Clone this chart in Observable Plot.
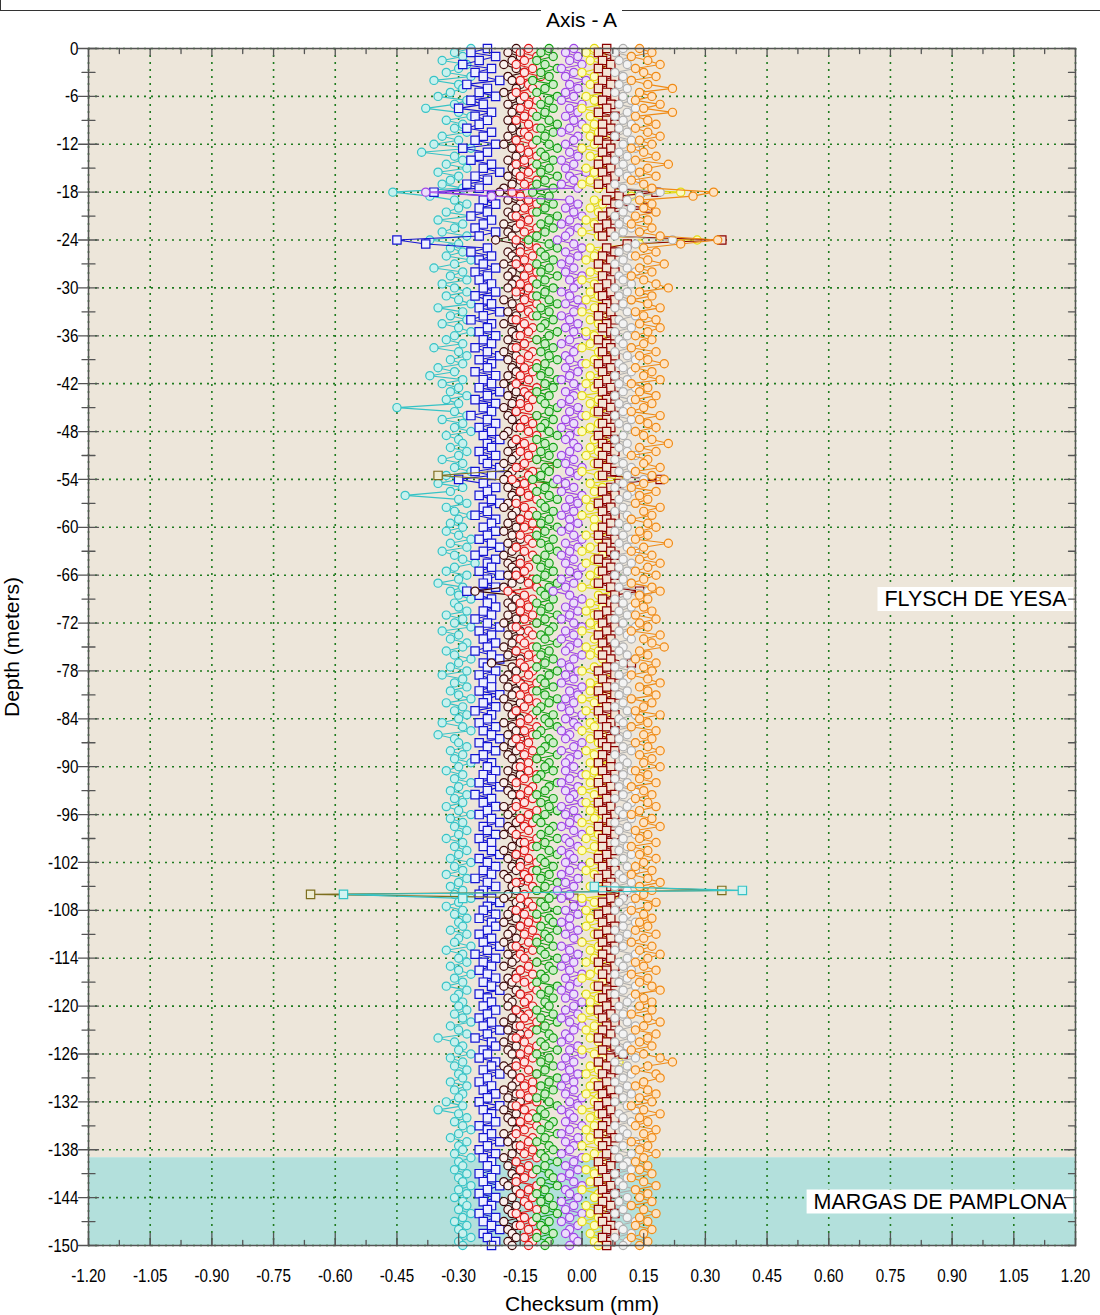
<!DOCTYPE html>
<html>
<head>
<meta charset="utf-8">
<script src="https://cdn.jsdelivr.net/npm/d3@7"></script>
<script src="https://cdn.jsdelivr.net/npm/@observablehq/plot@0.6"></script>
<style>
  body { margin: 0; background: #fff; }
  #wrap { position: relative; width: 1100px; height: 1315px; }
  #topline { position: absolute; left: 0; top: 0; width: 1100px; height: 11px; border-left: 1px solid #333; border-bottom: 1px solid #333; box-sizing: border-box; }
  #title { position: absolute; top: 8px; left: 88px; width: 987px; text-align: center; font: 21px "Liberation Sans", Arial, sans-serif; color: #000; }
  #title span { background: #fff; padding: 3px 5px 0 5px; }
  #chart svg { display: block; }
  #chart g[aria-label="x-axis label"], #chart g[aria-label="y-axis label"] { font-size: 21px; }
  #chart g[aria-label$="tick label"] { font-size: 19px; }
</style>
</head>
<body>
<div id="wrap">
  <div id="chart"></div>
  <div id="topline"></div>
  <div id="title"><span>Axis - A</span></div>
</div>
<script>
// ---------------- data ----------------
// reading depths (m): one reading every 0.5 m from 0 to -150
const depths = d3.range(0, -150.5, -0.5);

const set01 = [
 -.27,-.31,-.29,-.34,-.28,-.30,-.33,-.27,-.36,-.30,-.29,-.32,-.35,-.28,-.31,-.38,-.30,-.27,-.33,-.29,
 -.31,-.28,-.34,-.30,-.36,-.27,-.39,-.31,-.29,-.33,-.28,-.35,-.30,-.32,-.34,-.29,-.46,-.37,-.31,-.28,
 -.30,-.33,-.27,-.35,-.29,-.31,-.34,-.28,-.37,-.30,-.32,-.29,-.33,-.27,-.31,-.36,-.29,-.32,-.28,-.34,
 -.31,-.28,-.33,-.30,-.27,-.35,-.29,-.32,-.28,-.34,-.30,-.27,-.31,-.33,-.29,-.36,-.30,-.28,-.32,-.29,
 -.35,-.31,-.37,-.29,-.34,-.30,-.32,-.28,-.33,-.30,-.45,-.31,-.28,-.34,-.29,-.31,-.27,-.33,-.30,-.29,
 -.32,-.28,-.30,-.34,-.29,-.31,-.27,-.33,-.30,-.35,-.29,-.32,-.43,-.30,-.28,-.33,-.31,-.27,-.30,-.32,
 -.29,-.33,-.30,-.27,-.32,-.28,-.34,-.31,-.29,-.26,-.31,-.33,-.28,-.30,-.35,-.29,-.32,-.30,-.27,-.31,
 -.30,-.28,-.33,-.29,-.31,-.27,-.34,-.30,-.32,-.28,-.29,-.33,-.31,-.27,-.30,-.32,-.28,-.34,-.29,-.31,
 -.28,-.32,-.30,-.27,-.33,-.29,-.31,-.28,-.30,-.34,-.29,-.27,-.35,-.31,-.30,-.28,-.32,-.29,-.31,-.27,
 -.30,-.33,-.29,-.31,-.27,-.30,-.32,-.28,-.31,-.29,-.33,-.30,-.27,-.32,-.29,-.31,-.28,-.30,-.33,-.29,
 -.31,-.28,-.30,-.32,-.27,-.31,-.29,-.33,-.28,-.30,-.32,-.29,-.31,-.27,-.30,-.33,-.29,-.31,-.28,-.30,
 -.29,-.32,-.28,-.30,-.31,-.27,-.33,-.29,-.30,-.28,-.32,-.30,-.27,-.31,-.29,-.33,-.28,-.30,-.31,-.29,
 -.30,-.28,-.31,-.29,-.27,-.32,-.30,-.28,-.35,-.31,-.29,-.30,-.27,-.32,-.29,-.31,-.28,-.30,-.29,-.32,
 -.28,-.31,-.29,-.30,-.33,-.29,-.35,-.30,-.28,-.31,-.29,-.27,-.30,-.32,-.28,-.30,-.29,-.31,-.27,-.30,
 -.29,-.31,-.28,-.30,-.29,-.27,-.30,-.28,-.31,-.29,-.28,-.30,-.27,-.29,-.31,-.28,-.30,-.29,-.27,-.30,
 -.29];

const set02 = [
 -.23,-.27,-.21,-.25,-.29,-.22,-.26,-.24,-.20,-.28,-.23,-.25,-.21,-.27,-.24,-.30,-.22,-.26,-.23,-.25,
 -.28,-.22,-.24,-.26,-.21,-.29,-.23,-.25,-.27,-.22,-.24,-.20,-.26,-.23,-.28,-.25,-.36,-.22,-.24,-.21,
 -.25,-.23,-.27,-.22,-.24,-.26,-.21,-.25,-.45,-.38,-.23,-.27,-.22,-.25,-.24,-.21,-.26,-.23,-.25,-.22,
 -.24,-.21,-.26,-.23,-.22,-.25,-.20,-.24,-.27,-.22,-.23,-.25,-.21,-.24,-.22,-.26,-.23,-.20,-.25,-.22,
 -.23,-.26,-.21,-.24,-.22,-.25,-.20,-.23,-.26,-.21,-.24,-.22,-.27,-.23,-.21,-.25,-.22,-.24,-.20,-.23,
 -.22,-.25,-.21,-.24,-.23,-.20,-.26,-.22,-.30,-.24,-.21,-.23,-.25,-.22,-.20,-.24,-.23,-.26,-.21,-.22,
 -.24,-.21,-.23,-.25,-.22,-.20,-.24,-.26,-.21,-.23,-.22,-.25,-.20,-.23,-.24,-.21,-.28,-.25,-.22,-.23,
 -.21,-.24,-.22,-.26,-.23,-.20,-.25,-.22,-.24,-.21,-.23,-.26,-.22,-.20,-.24,-.23,-.21,-.25,-.22,-.24,
 -.22,-.25,-.20,-.23,-.24,-.21,-.26,-.22,-.23,-.25,-.21,-.24,-.22,-.20,-.25,-.23,-.21,-.24,-.26,-.22,
 -.23,-.21,-.24,-.22,-.25,-.20,-.23,-.26,-.22,-.24,-.21,-.23,-.25,-.22,-.20,-.24,-.23,-.21,-.25,-.22,
 -.24,-.22,-.20,-.25,-.23,-.21,-.24,-.22,-.26,-.23,-.21,-.24,-.25,-.22,-.20,-.23,-.24,-.21,-.25,-.22,
 -.21,-.23,-.25,-.22,-.24,-.20,-.23,-.26,-.21,-.24,-.22,-.25,-.23,-.21,-.24,-.22,-.20,-.25,-.23,-.22,
 -.24,-.21,-.23,-.25,-.22,-.24,-.20,-.23,-.26,-.22,-.21,-.24,-.23,-.25,-.21,-.22,-.24,-.20,-.23,-.25,
 -.22,-.24,-.21,-.23,-.25,-.20,-.24,-.22,-.23,-.21,-.25,-.23,-.22,-.24,-.20,-.23,-.25,-.21,-.24,-.22,
 -.23,-.21,-.25,-.22,-.24,-.20,-.23,-.25,-.21,-.24,-.22,-.23,-.25,-.21,-.24,-.22,-.20,-.24,-.23,-.21,
 -.22];

const set03 = [
 -.16,-.18,-.15,-.17,-.19,-.16,-.14,-.18,-.17,-.15,-.16,-.19,-.17,-.15,-.18,-.16,-.17,-.14,-.18,-.16,
 -.17,-.15,-.18,-.16,-.19,-.17,-.15,-.16,-.18,-.14,-.17,-.16,-.18,-.15,-.17,-.19,-.20,-.16,-.18,-.15,
 -.16,-.18,-.17,-.15,-.19,-.16,-.18,-.17,-.21,-.16,-.15,-.18,-.17,-.16,-.19,-.15,-.17,-.18,-.16,-.17,
 -.18,-.15,-.16,-.19,-.17,-.15,-.18,-.16,-.17,-.19,-.15,-.17,-.16,-.18,-.14,-.17,-.19,-.16,-.18,-.15,
 -.17,-.16,-.18,-.15,-.19,-.17,-.16,-.18,-.15,-.17,-.19,-.16,-.18,-.17,-.15,-.16,-.18,-.19,-.16,-.17,
 -.15,-.18,-.16,-.17,-.19,-.15,-.17,-.18,-.19,-.16,-.18,-.15,-.17,-.16,-.18,-.19,-.16,-.17,-.15,-.18,
 -.16,-.19,-.17,-.15,-.18,-.16,-.17,-.19,-.15,-.18,-.17,-.16,-.18,-.15,-.17,-.19,-.26,-.17,-.16,-.18,
 -.17,-.15,-.18,-.16,-.19,-.17,-.15,-.18,-.16,-.17,-.19,-.16,-.18,-.15,-.22,-.17,-.16,-.18,-.19,-.15,
 -.18,-.16,-.17,-.19,-.15,-.18,-.16,-.17,-.15,-.19,-.17,-.16,-.18,-.15,-.17,-.19,-.16,-.18,-.17,-.15,
 -.16,-.18,-.15,-.17,-.19,-.16,-.18,-.17,-.15,-.16,-.19,-.17,-.18,-.15,-.16,-.18,-.17,-.19,-.16,-.15,
 -.17,-.19,-.16,-.18,-.15,-.17,-.16,-.19,-.18,-.15,-.17,-.16,-.18,-.19,-.16,-.15,-.17,-.18,-.16,-.19,
 -.15,-.17,-.18,-.16,-.19,-.17,-.15,-.18,-.16,-.17,-.19,-.15,-.16,-.18,-.17,-.19,-.16,-.15,-.18,-.17,
 -.18,-.16,-.15,-.17,-.19,-.16,-.18,-.15,-.17,-.19,-.16,-.18,-.17,-.15,-.16,-.19,-.18,-.17,-.15,-.16,
 -.17,-.19,-.16,-.18,-.15,-.17,-.19,-.16,-.18,-.17,-.15,-.16,-.19,-.17,-.18,-.16,-.15,-.17,-.19,-.16,
 -.18,-.15,-.17,-.16,-.19,-.18,-.16,-.15,-.17,-.19,-.16,-.18,-.17,-.15,-.19,-.16,-.18,-.17,-.16,-.18,
 -.17];

const set04 = [
 -.13,-.15,-.11,-.14,-.16,-.12,-.14,-.10,-.15,-.13,-.12,-.16,-.14,-.11,-.13,-.15,-.12,-.14,-.16,-.13,
 -.11,-.14,-.13,-.16,-.12,-.15,-.13,-.11,-.14,-.16,-.12,-.13,-.15,-.11,-.14,-.12,-.17,-.15,-.13,-.11,
 -.14,-.12,-.16,-.13,-.15,-.11,-.14,-.12,-.16,-.13,-.11,-.15,-.12,-.14,-.16,-.13,-.11,-.14,-.12,-.15,
 -.13,-.16,-.12,-.14,-.11,-.15,-.13,-.12,-.16,-.14,-.12,-.13,-.15,-.11,-.14,-.16,-.12,-.13,-.15,-.11,
 -.14,-.12,-.15,-.13,-.16,-.11,-.14,-.13,-.12,-.15,-.13,-.16,-.11,-.14,-.12,-.15,-.13,-.11,-.16,-.14,
 -.12,-.15,-.13,-.11,-.14,-.16,-.12,-.13,-.17,-.14,-.12,-.15,-.13,-.11,-.16,-.14,-.12,-.13,-.15,-.12,
 -.14,-.11,-.15,-.13,-.12,-.16,-.14,-.12,-.11,-.15,-.13,-.14,-.16,-.12,-.13,-.11,-.18,-.14,-.12,-.15,
 -.13,-.15,-.12,-.14,-.11,-.16,-.13,-.12,-.15,-.14,-.12,-.16,-.13,-.11,-.15,-.14,-.12,-.13,-.16,-.11,
 -.14,-.12,-.15,-.13,-.11,-.14,-.16,-.12,-.13,-.15,-.11,-.14,-.12,-.16,-.13,-.15,-.12,-.14,-.11,-.13,
 -.15,-.13,-.11,-.14,-.16,-.12,-.13,-.15,-.12,-.14,-.16,-.11,-.13,-.15,-.12,-.14,-.13,-.16,-.11,-.14,
 -.12,-.14,-.16,-.13,-.11,-.15,-.12,-.14,-.13,-.16,-.12,-.11,-.14,-.15,-.13,-.12,-.16,-.14,-.11,-.13,
 -.15,-.12,-.14,-.11,-.13,-.16,-.12,-.15,-.14,-.11,-.13,-.15,-.12,-.16,-.14,-.12,-.11,-.15,-.13,-.14,
 -.12,-.16,-.13,-.14,-.11,-.15,-.12,-.13,-.16,-.14,-.11,-.13,-.15,-.12,-.14,-.16,-.13,-.11,-.15,-.12,
 -.14,-.12,-.15,-.13,-.11,-.16,-.14,-.12,-.13,-.15,-.11,-.14,-.16,-.12,-.13,-.15,-.12,-.14,-.11,-.16,
 -.13,-.15,-.12,-.14,-.16,-.11,-.13,-.15,-.12,-.14,-.13,-.11,-.16,-.14,-.12,-.15,-.13,-.11,-.14,-.12,
 -.13];

const set05 = [
 -.08,-.10,-.07,-.11,-.09,-.06,-.10,-.08,-.12,-.07,-.09,-.11,-.06,-.08,-.10,-.07,-.09,-.11,-.08,-.06,
 -.10,-.07,-.09,-.11,-.08,-.06,-.10,-.09,-.07,-.11,-.08,-.10,-.06,-.09,-.11,-.07,-.12,-.08,-.10,-.07,
 -.09,-.11,-.06,-.08,-.10,-.07,-.09,-.11,-.13,-.08,-.06,-.10,-.09,-.07,-.11,-.08,-.10,-.06,-.09,-.11,
 -.07,-.09,-.11,-.08,-.06,-.10,-.08,-.11,-.07,-.09,-.10,-.06,-.08,-.11,-.09,-.07,-.10,-.08,-.06,-.09,
 -.11,-.08,-.10,-.06,-.09,-.07,-.11,-.08,-.10,-.09,-.06,-.08,-.11,-.07,-.09,-.10,-.08,-.06,-.11,-.09,
 -.07,-.10,-.08,-.11,-.06,-.09,-.08,-.10,-.12,-.07,-.09,-.11,-.08,-.06,-.10,-.09,-.07,-.11,-.08,-.10,
 -.06,-.09,-.11,-.07,-.10,-.08,-.06,-.09,-.11,-.08,-.10,-.07,-.09,-.11,-.06,-.08,-.10,-.09,-.07,-.11,
 -.08,-.10,-.06,-.09,-.11,-.07,-.08,-.10,-.09,-.06,-.11,-.08,-.10,-.07,-.09,-.11,-.06,-.08,-.10,-.09,
 -.07,-.11,-.09,-.06,-.08,-.10,-.11,-.07,-.09,-.08,-.06,-.10,-.11,-.08,-.07,-.09,-.10,-.06,-.11,-.08,
 -.09,-.07,-.10,-.11,-.06,-.08,-.09,-.11,-.07,-.10,-.08,-.06,-.09,-.11,-.10,-.07,-.08,-.10,-.06,-.09,
 -.11,-.08,-.06,-.10,-.09,-.07,-.11,-.08,-.10,-.06,-.09,-.11,-.07,-.08,-.10,-.09,-.06,-.11,-.08,-.07,
 -.10,-.06,-.09,-.08,-.11,-.07,-.10,-.09,-.06,-.11,-.08,-.07,-.10,-.09,-.11,-.06,-.08,-.10,-.07,-.09,
 -.08,-.11,-.07,-.10,-.06,-.09,-.11,-.08,-.07,-.10,-.09,-.06,-.11,-.08,-.10,-.07,-.09,-.11,-.06,-.08,
 -.10,-.07,-.09,-.11,-.08,-.06,-.10,-.09,-.11,-.07,-.08,-.10,-.06,-.09,-.11,-.08,-.07,-.10,-.09,-.06,
 -.09,-.11,-.08,-.07,-.10,-.06,-.09,-.11,-.08,-.10,-.07,-.09,-.06,-.11,-.08,-.10,-.09,-.07,-.11,-.08,
 -.09];

const set06 = [
 -.02,-.04,-.01,-.03,.00,-.05,-.02,-.04,.01,-.03,-.01,-.04,-.02,-.05,.00,-.03,-.01,-.04,-.02,.00,
 -.03,-.05,-.01,-.02,-.04,.00,-.03,-.01,-.05,-.02,-.04,.01,-.03,-.02,-.05,-.01,-.38,-.22,-.03,-.01,
 -.04,-.02,.00,-.03,-.05,-.01,-.03,-.04,-.06,-.02,.00,-.04,-.01,-.03,-.05,-.02,-.04,.00,-.03,-.01,
 -.02,-.05,-.03,-.01,-.04,.00,-.02,-.05,-.03,-.01,-.04,-.02,.01,-.03,-.05,-.01,-.02,-.04,-.03,.00,
 -.04,-.01,-.03,-.05,-.02,.00,-.04,-.02,-.03,-.05,-.01,-.03,.00,-.04,-.02,-.05,-.01,-.03,-.04,-.02,
 -.01,-.03,-.05,-.02,-.04,.00,-.03,-.01,-.06,-.04,-.02,-.05,.00,-.03,-.01,-.04,-.02,-.05,-.03,-.01,
 -.03,-.05,-.02,.00,-.04,-.01,-.03,-.05,-.02,-.04,.00,-.03,-.01,-.05,-.02,-.04,-.07,-.03,.00,-.02,
 -.04,-.01,-.03,-.05,-.02,.00,-.04,-.02,-.05,-.01,-.03,-.04,.00,-.02,-.05,-.03,-.01,-.04,-.02,-.05,
 .00,-.03,-.01,-.04,-.02,-.05,-.03,.00,-.04,-.02,-.01,-.05,-.03,-.04,.00,-.02,-.05,-.01,-.03,-.04,
 -.02,-.04,.00,-.03,-.05,-.01,-.04,-.02,-.03,.00,-.05,-.02,-.04,-.01,-.03,-.05,-.02,.00,-.04,-.03,
 -.01,-.05,-.03,-.02,-.04,.00,-.03,-.05,-.01,-.04,-.02,-.06,-.03,-.05,.00,-.02,-.04,-.01,-.03,-.05,
 -.03,-.01,-.04,-.02,.00,-.05,-.03,-.01,-.04,-.02,-.05,-.03,.00,-.04,-.01,-.03,-.05,-.02,-.04,.00,
 -.02,-.04,-.01,-.05,-.03,.00,-.02,-.04,-.03,-.05,-.01,-.03,.00,-.04,-.02,-.05,-.03,-.01,-.04,-.02,
 -.05,-.02,-.04,.00,-.03,-.01,-.05,-.03,-.02,-.04,.00,-.03,-.05,-.01,-.04,-.02,-.03,-.05,.00,-.02,
 -.04,-.01,-.03,-.05,-.02,.00,-.04,-.03,-.01,-.05,-.02,-.04,.00,-.03,-.05,-.01,-.03,-.04,-.02,-.01,
 -.03];

const set07 = [
 .03,.01,.05,.02,.06,.04,.00,.03,.05,.02,.04,.06,.01,.03,.05,.00,.04,.02,.06,.03,
 .01,.04,.02,.06,.03,.00,.05,.02,.04,.06,.01,.03,.05,.02,.00,.04,.24,.12,.03,.05,
 .02,.04,.06,.01,.03,.05,.00,.04,.28,.14,.02,.05,.03,.01,.06,.04,.02,.05,.00,.03,
 .05,.02,.04,.01,.06,.03,.00,.05,.02,.04,.06,.01,.03,.05,.02,.00,.04,.06,.03,.01,
 .04,.06,.02,.05,.01,.03,.06,.00,.04,.02,.05,.03,.01,.06,.04,.02,.00,.05,.03,.06,
 .02,.04,.01,.05,.03,.06,.00,.04,.09,.02,.05,.03,.06,.01,.04,.02,.05,.00,.03,.06,
 .03,.05,.01,.04,.06,.02,.00,.05,.03,.01,.06,.04,.02,.05,.03,.00,.08,.04,.06,.02,
 .05,.01,.03,.06,.02,.04,.00,.05,.03,.06,.01,.04,.02,.05,.07,.03,.00,.04,.06,.02,
 .04,.02,.06,.00,.03,.05,.01,.04,.06,.02,.03,.00,.05,.02,.04,.06,.01,.03,.05,.02,
 .06,.03,.01,.04,.02,.05,.00,.03,.06,.01,.04,.02,.05,.03,.00,.06,.02,.04,.01,.05,
 .03,.00,.04,.06,.02,.05,.01,.03,.06,.04,.02,.05,.08,.00,.03,.06,.01,.04,.02,.05,
 .01,.05,.03,.06,.00,.04,.02,.05,.03,.01,.06,.04,.02,.00,.05,.03,.06,.01,.04,.02,
 .05,.02,.04,.00,.06,.03,.01,.05,.02,.04,.06,.00,.03,.05,.09,.02,.04,.01,.06,.03,
 .02,.06,.01,.04,.03,.05,.00,.04,.02,.06,.03,.01,.05,.02,.04,.00,.06,.03,.01,.05,
 .04,.01,.03,.06,.02,.05,.00,.04,.03,.06,.01,.05,.02,.04,.00,.03,.06,.02,.05,.03,
 .04];

const set08 = [
 .06,.04,.08,.05,.07,.04,.06,.08,.05,.07,.04,.06,.08,.05,.07,.06,.04,.08,.06,.05,
 .07,.05,.08,.04,.06,.07,.05,.08,.06,.04,.07,.05,.08,.06,.04,.07,.18,.09,.06,.08,
 .16,.07,.05,.08,.06,.04,.07,.05,.34,.11,.06,.08,.05,.07,.04,.06,.08,.05,.07,.06,
 .04,.07,.05,.08,.06,.05,.07,.04,.08,.06,.05,.07,.08,.04,.06,.07,.05,.08,.06,.04,
 .07,.05,.08,.06,.04,.07,.05,.08,.06,.05,.07,.04,.08,.06,.05,.07,.06,.04,.08,.05,
 .06,.08,.05,.07,.04,.06,.08,.05,.19,.09,.07,.05,.08,.06,.04,.07,.05,.08,.06,.07,
 .05,.07,.04,.08,.06,.05,.07,.08,.04,.06,.07,.05,.08,.06,.04,.07,.14,.08,.05,.07,
 .08,.06,.04,.07,.05,.08,.06,.04,.07,.05,.08,.06,.05,.07,.12,.06,.04,.08,.05,.07,
 .06,.04,.08,.05,.07,.06,.04,.08,.05,.07,.06,.08,.04,.07,.05,.06,.08,.05,.07,.04,
 .07,.05,.08,.06,.04,.07,.05,.08,.06,.04,.07,.05,.08,.06,.07,.04,.06,.08,.05,.07,
 .05,.08,.06,.04,.07,.05,.08,.06,.04,.07,.06,.05,.10,.07,.05,.08,.06,.04,.07,.05,
 .08,.06,.04,.07,.05,.08,.06,.05,.07,.04,.08,.06,.05,.07,.08,.04,.06,.07,.05,.08,
 .06,.04,.07,.05,.08,.06,.05,.07,.04,.06,.08,.05,.10,.07,.04,.06,.08,.05,.07,.06,
 .04,.07,.05,.08,.06,.04,.07,.05,.08,.06,.05,.07,.04,.08,.06,.05,.07,.06,.08,.04,
 .07,.05,.08,.06,.04,.07,.05,.08,.06,.05,.07,.04,.08,.06,.05,.07,.06,.08,.05,.07,
 .06];

const set09 = [
 .10,.08,.12,.09,.11,.13,.08,.10,.12,.09,.11,.08,.10,.12,.09,.13,.11,.08,.10,.12,
 .09,.11,.08,.12,.10,.13,.09,.11,.08,.10,.12,.09,.11,.13,.08,.10,.19,.14,.11,.09,
 .12,.10,.08,.11,.09,.12,.10,.08,.22,.13,.11,.09,.12,.10,.08,.11,.13,.09,.10,.12,
 .08,.11,.09,.12,.10,.08,.11,.13,.09,.10,.12,.08,.11,.09,.10,.12,.08,.11,.13,.09,
 .10,.12,.08,.11,.09,.13,.10,.08,.12,.09,.11,.10,.08,.12,.09,.11,.13,.10,.08,.11,
 .09,.11,.13,.08,.10,.12,.09,.11,.15,.10,.08,.12,.11,.09,.13,.10,.08,.11,.12,.09,
 .11,.08,.10,.12,.09,.11,.13,.08,.10,.12,.09,.11,.08,.10,.12,.09,.16,.11,.08,.10,
 .12,.09,.11,.08,.10,.13,.09,.11,.12,.08,.10,.09,.11,.13,.10,.08,.12,.09,.11,.10,
 .08,.11,.09,.12,.10,.08,.11,.13,.09,.10,.12,.08,.11,.09,.13,.10,.12,.08,.10,.11,
 .09,.12,.10,.08,.11,.09,.13,.10,.08,.12,.11,.09,.10,.12,.08,.11,.09,.13,.10,.08,
 .11,.09,.12,.10,.08,.11,.13,.09,.10,.12,.08,.11,.14,.10,.09,.12,.08,.11,.10,.13,
 .10,.08,.11,.09,.12,.10,.08,.13,.11,.09,.10,.12,.08,.11,.09,.13,.10,.08,.12,.11,
 .09,.12,.10,.08,.11,.13,.09,.10,.12,.08,.11,.09,.10,.13,.08,.11,.09,.12,.10,.08,
 .11,.09,.12,.10,.08,.11,.13,.09,.10,.12,.08,.10,.11,.09,.13,.10,.08,.12,.09,.11,
 .10,.12,.08,.11,.09,.10,.13,.08,.11,.09,.12,.10,.08,.11,.13,.09,.10,.12,.08,.11,
 .10];

const set10 = [
 .14,.17,.12,.16,.19,.13,.15,.18,.12,.16,.22,.14,.17,.13,.19,.15,.22,.13,.16,.18,
 .13,.16,.19,.14,.17,.12,.15,.18,.13,.21,.16,.14,.18,.12,.15,.17,.32,.27,.14,.17,
 .15,.18,.13,.16,.12,.17,.14,.19,.33,.24,.15,.18,.13,.16,.20,.14,.17,.12,.15,.18,
 .21,.14,.17,.12,.16,.19,.13,.15,.18,.14,.19,.16,.13,.17,.15,.12,.18,.14,.16,.20,
 .13,.17,.15,.19,.12,.16,.14,.18,.13,.17,.15,.12,.19,.14,.16,.18,.13,.15,.17,.21,
 .14,.18,.12,.16,.15,.19,.13,.17,.20,.15,.12,.18,.14,.16,.13,.19,.15,.17,.12,.16,
 .18,.14,.16,.13,.21,.15,.12,.17,.14,.19,.16,.13,.18,.15,.12,.17,.19,.14,.16,.13,
 .15,.17,.13,.18,.14,.16,.12,.19,.15,.17,.20,.14,.16,.13,.18,.15,.17,.12,.16,.19,
 .14,.16,.18,.12,.17,.15,.13,.19,.14,.16,.12,.18,.15,.17,.13,.16,.19,.14,.17,.15,
 .19,.13,.16,.14,.18,.12,.15,.17,.13,.16,.18,.14,.12,.17,.15,.19,.13,.16,.14,.18,
 .12,.16,.14,.18,.15,.13,.17,.12,.16,.19,.14,.17,.15,.13,.18,.16,.12,.15,.17,.14,
 .16,.13,.18,.15,.12,.17,.14,.19,.16,.13,.15,.18,.12,.16,.14,.17,.19,.13,.15,.17,
 .14,.17,.12,.16,.19,.15,.13,.18,.16,.14,.17,.12,.15,.19,.22,.16,.13,.18,.19,.15,
 .13,.16,.18,.14,.17,.12,.15,.19,.14,.16,.13,.18,.15,.17,.12,.16,.14,.18,.15,.13,
 .16,.14,.17,.12,.15,.18,.13,.16,.14,.17,.12,.15,.18,.14,.16,.13,.17,.15,.12,.16,
 .14];

// two sets only visible where they leave the bundle
const set11Depth = [-52.5, -53.5, -54.5, -105, -105.5, -106, -106.5];
const set11Value = [-.08, -.35, -.06, .05, .34, -.66, -.02];
const set11Segment = [1, 1, 1, 2, 2, 2, 2];
const set12Depth = [-105, -105.5, -106, -106.5];
const set12Value = [.03, .39, -.58, -.29];
const set12Segment = [1, 1, 1, 1];

const xTicks = [-1.2,-1.05,-0.9,-0.75,-0.6,-0.45,-0.3,-0.15,0,0.15,0.3,0.45,0.6,0.75,0.9,1.05,1.2];
const yTicks = [0,-6,-12,-18,-24,-30,-36,-42,-48,-54,-60,-66,-72,-78,-84,-90,-96,-102,-108,-114,-120,-126,-132,-138,-144,-150];

const layerNames = ["FLYSCH DE YESA", "MARGAS DE PAMPLONA"];
const layerTop = [0, -139];
const layerBottom = [-139, -150];
const layerLabelDepth = [-69, -144.5];

// ---------------- styles ----------------
const mainSets = [set01, set02, set03, set04, set05, set06, set07, set08, set09, set10];
const mainStyles = [
  {stroke: "#36c3c6", fill: "#c8f1ee", symbol: "circle"},
  {stroke: "#1414d2", fill: "#eef0ff", symbol: "square"},
  {stroke: "#3c0808", fill: "#fbf1ee", symbol: "circle"},
  {stroke: "#e01818", fill: "#fde6e6", symbol: "circle"},
  {stroke: "#12a012", fill: "#cdeec8", symbol: "circle"},
  {stroke: "#a046e6", fill: "#ecdffb", symbol: "circle"},
  {stroke: "#e4da10", fill: "#fdfbc4", symbol: "circle"},
  {stroke: "#8c0000", fill: "#f3e4d6", symbol: "square"},
  {stroke: "#b0b0b0", fill: "#f3f3f3", symbol: "circle"},
  {stroke: "#f08a14", fill: "#fde3c4", symbol: "circle"}
];
const extraStyles = [
  {stroke: "#7d6e1e", fill: "#eeecd2", symbol: "square"},
  {stroke: "#36c3c6", fill: "#d2f4f2", symbol: "square"}
];
const layerColors = ["#ede6da", "#b3e0dc"];
const gridColor = "#1e7a1e";
const axisColor = "#555";

// ---------------- build ----------------
const xDomain = [xTicks[0], xTicks[xTicks.length - 1]];
const yDomain = [yTicks[yTicks.length - 1], yTicks[0]];
const xMinor = xTicks.slice(1).map((t, i) => (t + xTicks[i]) / 2);
const yMinor = yTicks.slice(1).map((t, i) => (t + yTicks[i]) / 2);

const layers = layerNames.map((name, i) => ({name, top: layerTop[i], bottom: layerBottom[i], color: layerColors[i], labelDepth: layerLabelDepth[i]}));

const tickShape = {draw(context, l) { context.moveTo(0, 0); context.lineTo(0, -l); }};
const tick = (data, opts) => Plot.vector(data, {shape: tickShape, stroke: axisColor, strokeWidth: 1.3, ...opts});

const seriesMarks = [];
function addSeries(values, ys, segs, st) {
  const data = values.map((v, j) => ({x: v, y: ys[j], seg: segs ? segs[j] : 0})).filter(d => d.y !== undefined);
  seriesMarks.push(Plot.line(data, {x: "x", y: "y", z: "seg", stroke: st.stroke, strokeWidth: 1.1}));
  seriesMarks.push(Plot.dot(data, {x: "x", y: "y", symbol: st.symbol, r: st.symbol === "square" ? 4.7 : 4.1, stroke: st.stroke, fill: st.fill, fillOpacity: 1, strokeWidth: 1.2}));
}
mainSets.forEach((vals, i) => {
  addSeries(vals, depths, null, mainStyles[i]);
  if (i === 1) addSeries(set11Value, set11Depth, set11Segment, extraStyles[0]);
});
addSeries(set12Value, set12Depth, set12Segment, extraStyles[1]);

const chart = Plot.plot({
  width: 1100,
  height: 1315,
  marginLeft: 88,
  marginRight: 25,
  marginTop: 48,
  marginBottom: 70,
  x: {domain: xDomain},
  y: {domain: yDomain},
  style: {fontFamily: "'Liberation Sans', Arial, sans-serif", fontSize: "19px", color: "#000", background: "transparent", overflow: "visible"},
  marks: [
    Plot.rect(layers, {y1: "top", y2: "bottom", fill: "color"}),
    Plot.gridX(xTicks, {stroke: gridColor, strokeOpacity: 1, strokeWidth: 1.6, strokeDasharray: "2,5"}),
    Plot.gridY(yTicks, {stroke: gridColor, strokeOpacity: 1, strokeWidth: 1.6, strokeDasharray: "2,5"}),
    ...seriesMarks,
    Plot.frame({stroke: axisColor, strokeWidth: 1.5}),
    Plot.text(layers, {y: "labelDepth", text: "name", frameAnchor: "right", textAnchor: "end", dx: -9, fontSize: 21.5, fill: "#000"}),
    // left ticks
    tick(yTicks, {x: xDomain[0], y: d => d, rotate: 90, anchor: "middle", length: 20}),
    tick(yMinor, {x: xDomain[0], y: d => d, rotate: 90, anchor: "middle", length: 13}),
    // right ticks
    tick(yTicks, {x: xDomain[1], y: d => d, rotate: -90, anchor: "start", length: 11}),
    tick(yMinor, {x: xDomain[1], y: d => d, rotate: -90, anchor: "start", length: 7}),
    // top ticks
    tick(xTicks, {x: d => d, y: yDomain[1], rotate: 180, anchor: "start", length: 7}),
    tick(xMinor, {x: d => d, y: yDomain[1], rotate: 180, anchor: "start", length: 5}),
    // bottom ticks
    tick(xTicks, {x: d => d, y: yDomain[0], rotate: 180, anchor: "end", length: 12}),
    tick(xTicks.concat(xMinor), {x: d => d, y: yDomain[0], rotate: 0, anchor: "start", length: 5}),
    Plot.axisX(xTicks, {anchor: "bottom", tickSize: 0, tickPadding: 23, tickFormat: d => d.toFixed(2), label: "Checksum (mm)", labelAnchor: "center", labelOffset: 65, labelArrow: "none"}),
    Plot.axisY(yTicks, {anchor: "left", tickSize: 0, tickPadding: 10, tickFormat: d => String(d), label: "Depth (meters)", labelAnchor: "center", labelOffset: 84, labelArrow: "none"})
  ]
});

document.getElementById("chart").append(chart);

// white boxes behind the layer names
chart.querySelectorAll("text").forEach(t => {
  if (!layerNames.includes(t.textContent)) return;
  const b = t.getBBox();
  const r = document.createElementNS("http://www.w3.org/2000/svg", "rect");
  r.setAttribute("x", b.x - 7);
  r.setAttribute("y", b.y);
  r.setAttribute("width", b.width + 13);
  r.setAttribute("height", b.height);
  r.setAttribute("fill", "#fff");
  const tr = t.getAttribute("transform");
  if (tr) r.setAttribute("transform", tr);
  t.parentNode.insertBefore(r, t);
});

// narrow the tick labels (the original uses a condensed face)
chart.querySelectorAll('g[aria-label$="tick label"] text').forEach(t => {
  const x = +t.getAttribute("x") || 0, y = +t.getAttribute("y") || 0;
  const tr = t.getAttribute("transform") || "";
  t.setAttribute("transform", `${tr} translate(${x},${y}) scale(0.8,1) translate(${-x},${-y})`);
});
</script>
</body>
</html>
